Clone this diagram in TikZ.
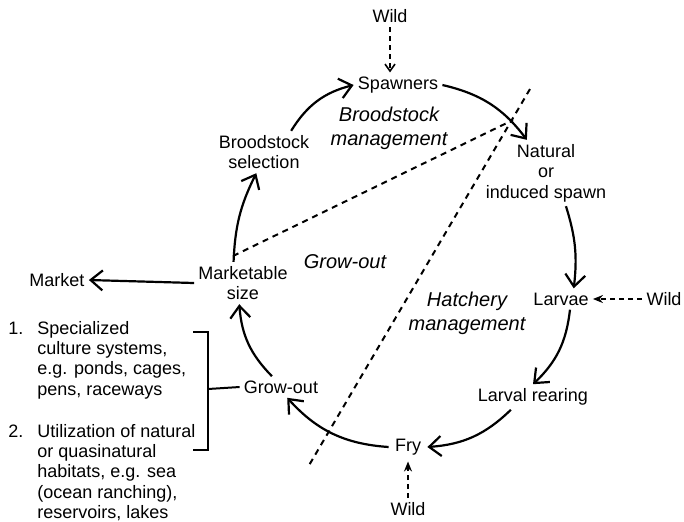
\documentclass[tikz,border=0pt]{standalone}
\usepackage{fontspec}
\setmainfont{Liberation Sans}
\usetikzlibrary{arrows.meta,calc}
\tikzset{
	stage/.style={inner sep=2pt, align=center},
	zone/.style={inner sep=1pt, align=center, font=\itshape},
	listtxt/.style={inner sep=0pt, anchor=base west},
	cycedge/.style={->,>={Straight Barb[length=6pt,width=10pt]},color=black, line width=1.1pt},
	wildedge/.style={->,>={Stealth[length=5pt,width=4pt]},color=black, line width=0.8pt, dash pattern=on 2.5pt off 2pt},
	wildedgeopen/.style={->,>={Straight Barb[length=3.5pt,width=5pt]},color=black, line width=0.8pt, dash pattern=on 2.5pt off 2pt},
	divider/.style={color=black, line width=1pt, dash pattern=on 3pt off 2.5pt},
	bracket/.style={color=black, line width=1pt}
}

\begin{document}
\begin{tikzpicture}[x=0.5pt,y=-0.5pt,font=\fontsize{9}{10.2}\selectfont]
	\useasboundingbox (0,0) rectangle (684,521);
	%%%cycle
	\node[stage] (spawn) at (398,85) {Spawners};
	\node[stage] (natural) at (546,173) {Natural\\or\\induced spawn};
	\node[stage] (larvae) at (561,299) {Larvae};
	\node[stage] (larvrear) at (533,397) {Larval rearing};
	\node[stage,inner sep=3pt] (fry) at (408,447) {Fry};
	\node[stage] (growout) at (281,387) {Grow-out};
	\node[stage] (market) at (243,283) {Marketable\\size};
	\node[stage] (broodsel) at (264,152) {Broodstock\\selection};
	\node[stage] (marketout) at (57,280) {Market};
	
	%%%wild inputs
	\node[stage] (wildtop) at (390,16) {Wild};
	\node[stage] (wildright) at (664,299) {Wild};
	\node[stage] (wildbot) at (408,509) {Wild};
	
	%%%zones
	\node[zone] (broodman) at (389,128) {Broodstock\\management};
	\node[zone] (hatchman) at (467,313) {Hatchery\\management};
	\node[zone] (growlab) at (345,262) {Grow-out};
	
	%%%grow-out systems
	\node[listtxt] (list1) at (8,334) {\begin{tabular}[t]{@{}l@{\hspace{7pt}}l@{}}1. & Specialized\\ & culture systems,\\ & e.g. ponds, cages,\\ & pens, raceways\end{tabular}};
	\node[listtxt] (list2) at (8,437) {\begin{tabular}[t]{@{}l@{\hspace{7pt}}l@{}}2. & Utilization of natural\\ & or quasinatural\\ & habitats, e.g. sea\\ & (ocean ranching),\\ & reservoirs, lakes\end{tabular}};
	
	\draw[cycedge] (broodsel.38) to[bend left=22] (spawn.west);
	\draw[cycedge] (spawn.east) to[bend left=20] (natural.120);
	\draw[cycedge] (natural.-59) to[bend left=12] (larvae.40);
	\draw[cycedge] (larvae.-50) to[bend left=20] (larvrear.north);
	\draw[cycedge] (larvrear.-150) to[bend left=20] (fry.east);
	\draw[cycedge] (fry.west) to[bend left=22] (growout.-60);
	\draw[cycedge] (growout.130) to[bend left=20] (market.-100);
	\draw[cycedge] (market.114) to[bend left=12] (broodsel.-110);
	\draw[cycedge] (market.west) -- (marketout.east);
	
	\draw[wildedgeopen] (wildtop.south) -- (wildtop.south |- spawn.north);
	\draw[wildedge] (wildright.west) -- (larvae.east);
	\draw[wildedge] (wildbot.north) -- (fry.south);
	
	%%%boundaries
	\coordinate (bA) at (233,256);
	\coordinate (eA) at (513,120);
	\coordinate (bB) at (530,89);
	\coordinate (eB) at (308,467);
	\draw[divider] (bA) -- (eA);
	\draw[divider] (bB) -- (eB);
	
	\coordinate (brk) at (208,389);
	\draw[bracket] (193,332) -- (208,332) -- (208,450) -- (193,450);
	\draw[bracket] (brk) -- (growout.west);
\end{tikzpicture}
\end{document}
